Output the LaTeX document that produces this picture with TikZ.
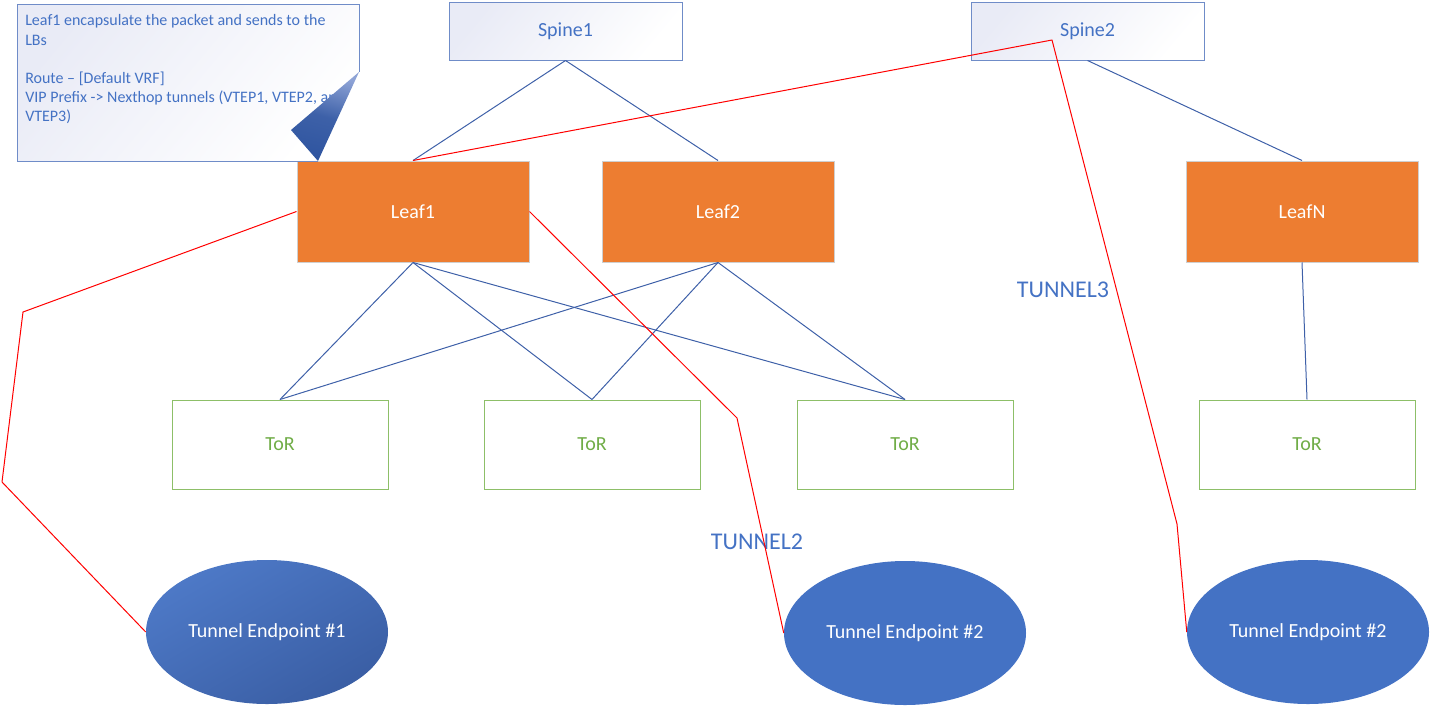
\documentclass[tikz,border=0pt]{standalone}
\usepackage{fontspec}
\setmainfont{Carlito}
\usetikzlibrary{shapes.geometric}
\definecolor{accblue}{HTML}{4472C4}
\definecolor{linkblue}{HTML}{3E60A8}
\definecolor{spineline}{HTML}{6F8CC8}
\definecolor{spinefill}{HTML}{E9EBF6}
\definecolor{leaffill}{HTML}{ED7D31}
\definecolor{leafline}{HTML}{CFCFCF}
\definecolor{torline}{HTML}{8DBF68}
\definecolor{tortext}{HTML}{70AD47}
\definecolor{darkell}{HTML}{3A5EA4}
\definecolor{foldlight}{HTML}{8EA3D6}
\definecolor{folddark}{HTML}{2F55A0}
\definecolor{tunred}{HTML}{FF0000}
\begin{document}
\begin{tikzpicture}[x=0.75pt,y=-0.75pt,
  spinebox/.style={draw=spineline,line width=0.75pt,top color=spinefill,bottom color=white,shading angle=50,
    minimum width=174.75pt,minimum height=43.5pt,inner sep=0pt,font=\fontsize{15}{18}\selectfont,text=accblue},
  leafbox/.style={draw=leafline,line width=0.75pt,fill=leaffill,minimum width=174pt,minimum height=75.75pt,
    inner sep=0pt,font=\fontsize{15}{18}\selectfont,text=white},
  torbox/.style={draw=torline,line width=0.75pt,fill=white,minimum width=162pt,minimum height=66.75pt,
    inner sep=0pt,font=\fontsize{15}{18}\selectfont,text=tortext},
  endpt/.style={ellipse,fill=accblue,minimum width=181.5pt,minimum height=108pt,inner sep=0pt,
    font=\fontsize{15}{18}\selectfont,text=white},
  bline/.style={draw=linkblue,line width=0.75pt},
  rline/.style={draw=tunred,line width=0.75pt,line join=round},
  tunlabel/.style={font=\fontsize{18}{21}\selectfont,text=accblue,inner sep=0pt}]
\useasboundingbox (0,0) rectangle (1430,707);

% spines
\node[spinebox] (s1) at (565.5,31) {Spine1};
\node[spinebox] (s2) at (1087.5,31) {Spine2};
% leaves
\node[leafbox] (l1) at (413,211.5) {Leaf1};
\node[leafbox] (l2) at (718,211.5) {Leaf2};
\node[leafbox] (ln) at (1302,211.5) {LeafN};
% ToRs
\node[torbox] (t1) at (280,444.5) {ToR};
\node[torbox] (t2) at (592,444.5) {ToR};
\node[torbox] (t3) at (905,444.5) {ToR};
\node[torbox] (t4) at (1307,444.5) {ToR};
% endpoints
\node[endpt,fill=none,top color=accblue!95!white,bottom color=darkell,shading angle=30] (e1) at (267,632) {Tunnel Endpoint \#1};
\node[endpt] (e2) at (905,633) {Tunnel Endpoint \#2};
\node[endpt] (e3) at (1308,632) {Tunnel Endpoint \#2};

% labels
\node[tunlabel] (tl3) at (1063,290) {TUNNEL3};
\node[tunlabel] (tl2) at (757,542) {TUNNEL2};

% blue links
\draw[bline] (s1.south) -- (l1.north);
\draw[bline] (s1.south) -- (l2.north);
\draw[bline] (s2.south) -- (ln.north);
\draw[bline] (l1.south) -- (t1.north);
\draw[bline] (l1.south) -- (t2.north);
\draw[bline] (l1.south) -- (t3.north);
\draw[bline] (l2.south) -- (t1.north);
\draw[bline] (l2.south) -- (t2.north);
\draw[bline] (l2.south) -- (t3.north);
\draw[bline] (ln.south) -- (t4.north);

% red tunnels
\coordinate (r1a) at (1052,40);
\coordinate (r1b) at (1177,524);
\coordinate (r2a) at (23,312);
\coordinate (r2b) at (2,482);
\coordinate (r3a) at (737,418);
\draw[rline] (l1.north) -- (r1a) -- (r1b) -- (e3.west);
\draw[rline] (l1.west) -- (r2a) -- (r2b) -- (e1.west);
\draw[rline] (l1.east) -- (r3a) -- (e2.west);

% callout
\shade[top color=spinefill,bottom color=white,shading angle=50]
  (17,4) -- (359,4) -- (359,72) -- (291,130) -- (318,161) -- (17,161) -- cycle;
\node[anchor=north west,inner sep=0pt,align=left,text=accblue,font=\fontsize{12}{14.4}\selectfont] (ctext) at (25,14.5)
  {Leaf1 encapsulate the packet and sends to the\\LBs\\[14.4pt]Route -- [Default VRF]\\VIP Prefix -> Nexthop tunnels (VTEP1, VTEP2, and\\VTEP3)};
\shade[top color=foldlight,bottom color=folddark,middle color=folddark!85!foldlight,shading angle=-15] (359,72) -- (291,130) -- (318,161) -- cycle;
\draw[draw=spineline,line width=0.75pt,line join=miter] (318,161) -- (17,161) -- (17,4) -- (359,4) -- (359,72);
\end{tikzpicture}
\end{document}
